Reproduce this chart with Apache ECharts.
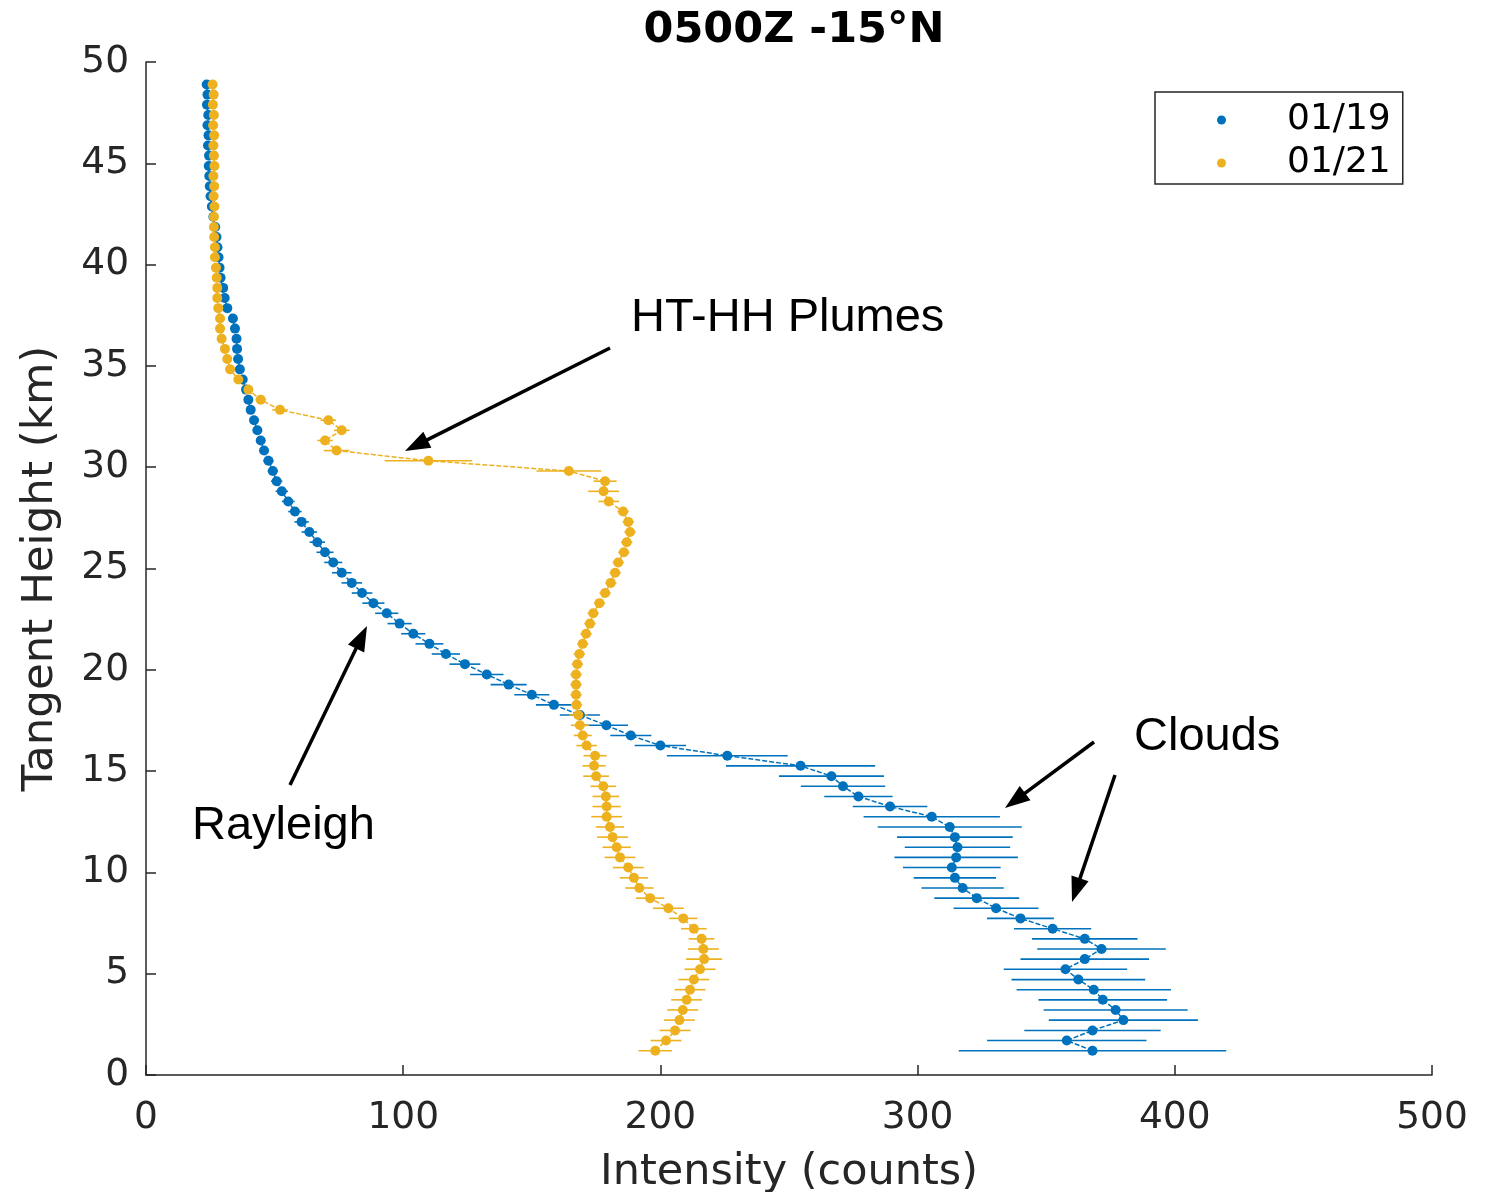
<!DOCTYPE html>
<html><head><meta charset="utf-8">
<script src="https://cdn.jsdelivr.net/npm/echarts@6/dist/echarts.min.js"></script>
<style>html,body{margin:0;padding:0;background:#fff}#c{width:1499px;height:1192px}</style>
</head><body><div id="c"></div>
<script>
// Tangent heights (km)
const heights = [1.20,1.70,2.20,2.71,3.21,3.71,4.21,4.71,5.22,5.72,6.22,6.72,7.22,7.73,8.23,8.73,9.23,9.73,10.24,10.74,
11.24,11.74,12.24,12.75,13.25,13.75,14.25,14.75,15.26,15.76,16.26,16.76,17.26,17.77,18.27,18.77,19.27,19.77,20.28,20.78,
21.28,21.78,22.28,22.79,23.29,23.79,24.29,24.79,25.30,25.80,26.30,26.80,27.30,27.81,28.31,28.81,29.31,29.81,30.32,30.82,
31.32,31.82,32.32,32.83,33.33,33.83,34.33,34.83,35.34,35.84,36.34,36.84,37.34,37.85,38.35,38.85,39.35,39.85,40.36,40.86,
41.36,41.86,42.36,42.87,43.37,43.87,44.37,44.87,45.38,45.88,46.38,46.88,47.38,47.89,48.39,48.89];

// 01/19 intensity and error half-widths
const blueVals = [368,358,368,380,377,372,368.5,362.5,357.5,365,371.5,365,352.5,340,330.5,323,317.5,314.5,313.3,315,
315.5,314.5,312.5,305.5,289.3,277,271,266.5,254.5,226,200,188.5,179,168.7,158.6,150,141,132.5,124,116.6,
110.2,103.9,98.6,93.6,88.4,84,80,76.1,72.8,69.6,66.6,63.5,60.5,57.9,55.3,52.8,50.8,49.3,47.6,45.9,
44.6,43.3,42,40.7,39.8,38.9,37.6,36.5,35.8,35.4,35.2,34.6,33.8,31.6,30.6,30.0,29.0,28.6,28.2,27.8,
27.4,26.9,26.2,25.6,25.1,24.8,24.6,24.4,24.5,24.1,24.3,23.9,24.2,23.7,23.9,23.6];
const blueErr = [52,31,26.5,29,28,25,30,26,24,25,25,20.5,15,13,16.5,16.5,16,16,19,24,
20.5,22.5,28,26.5,14.5,13.3,16.4,20.4,29,23.5,10,8,8.4,7.8,7,6.8,7,6.5,6,5.5,
5.4,4.7,4.7,4.5,4.3,4,4,3.8,3.5,3.3,3,3,2.8,2.6,2.5,2.4,2.2,2,2,1.8,
1.8,1.7,1.6,1.5,1.5,1.4,1.3,1.3,1.2,1.2,1.1,1.1,1,1,1,1,1,1,1,1,
1,1,1,1,1,1,1,1,1,1,1,1,1,1,1,1];

// 01/21 intensity and error half-widths
const yellowVals = [198,202.2,205.7,207.4,208.7,210.2,211.5,213,215.4,217,216.7,216,213,208.9,203.1,196,191.8,189.7,187.5,184.3,
183,181.4,180.4,179.1,179.1,178.8,177.8,175,174.2,174.6,171.3,169.8,168.7,168.1,167.4,167.2,167.2,167.2,167.7,168.5,
169.8,171.1,172.6,173.9,176.3,178.5,180.7,182.4,183.6,185.8,186.9,188.2,187.5,185.5,179.9,177.9,178.5,164.4,109.8,74.1,
69.6,76.1,70.9,52.1,44.6,39.8,35.9,32.7,31.6,30.7,29.4,28.8,28.8,28.1,27.7,27.7,27.5,27.2,26.8,26.8,
26.5,26.4,26.4,26.6,26.3,26.5,26.2,26.6,26.4,26.2,26.5,26.1,26.4,26.0,26.3,25.9];
const yellowErr = [6.5,6,6,6,6,6,6,6,6,7,6,5,5,5.5,6,5.5,5.5,5.5,6,6,
5.5,6,5.5,6,5.5,5.2,5,5,4.5,4.5,4,3.5,3.5,3.5,2.2,2.2,2.2,2.2,2.2,2.2,
2.2,2.2,2.2,2.2,2.2,2.2,2.2,2.2,2.2,2.2,2.2,2.2,2.2,2.2,4,6,4.5,12.6,17,5,
3,3,3,3,2,1.5,1.5,1.2,1.2,1,1,1,1,1,1,1,1,1,1,1,
1,1,1,1,1,1,1,1,1,1,1,1,1,1,1,1];

const seriesNames = ['01/19', '01/21'];
const BLUE = '#0072BD', YELLOW = '#EDB120', AX = '#262626';
const FONT = 'DejaVu Sans';

function errSeries(name, vals, errs, color) {
  return {
    type: 'custom', name: name, silent: true, z: 2,
    data: heights.map((h, i) => [h, vals[i] - errs[i], vals[i] + errs[i]]),
    encode: { x: [1, 2], y: 0 },
    renderItem: function (params, api) {
      const a = api.coord([api.value(1), api.value(0)]);
      const b = api.coord([api.value(2), api.value(0)]);
      return { type: 'line', shape: { x1: a[0], y1: a[1], x2: b[0], y2: b[1] },
               style: { stroke: color, lineWidth: 1.6 } };
    }
  };
}
function lineSeries(name, vals, color) {
  return {
    type: 'line', name: name, z: 3,
    data: heights.map((h, i) => [vals[i], h]),
    symbol: 'circle', symbolSize: 10, showSymbol: true,
    itemStyle: { color: color },
    lineStyle: { color: color, width: 1.5, type: [5, 2] }
  };
}
function arrow(x0, y0, x1, y1) {
  const dx = x1 - x0, dy = y1 - y0, len = Math.hypot(dx, dy), ux = dx / len, uy = dy / len;
  const L = 25, W = 9;
  const bx = x1 - ux * L, by = y1 - uy * L;
  return [
    { type: 'line', shape: { x1: x0, y1: y0, x2: bx + ux * 3, y2: by + uy * 3 }, style: { stroke: '#000', lineWidth: 3.5 } },
    { type: 'polygon', shape: { points: [[x1, y1], [bx - uy * W, by + ux * W], [bx + uy * W, by - ux * W]] }, style: { fill: '#000' } }
  ];
}
function label(text, x, y) {
  return { type: 'text', x: x, y: y, style: { text: text, font: '47px "Liberation Sans"', fill: '#000', verticalAlign: 'middle', align: 'left' } };
}

const chart = echarts.init(document.getElementById('c'), null, { renderer: 'canvas' });
chart.setOption({
  animation: false,
  backgroundColor: '#fff',
  title: { text: '0500Z -15°N', left: 789, textAlign: 'center', top: 4,
           textStyle: { fontSize: 43, fontWeight: 'bold', color: '#000', fontFamily: FONT } },
  grid: { left: 146, right: 67, top: 62, bottom: 117, containLabel: false, outerBoundsMode: 'none' },
  legend: {
    orient: 'vertical', left: 1155, top: 92,
    data: seriesNames.map(n => ({ name: n, icon: 'circle' })),
    itemWidth: 9, itemHeight: 9, itemGap: 7,
    padding: [10, 12, 3, 62],
    borderColor: AX, borderWidth: 1.5, backgroundColor: '#fff',
    textStyle: { fontSize: 36, lineHeight: 36, color: '#000', fontFamily: FONT, padding: [0, 0, 0, 56] }
  },
  xAxis: {
    type: 'value', min: 0, max: 500, interval: 100,
    name: 'Intensity (counts)', nameLocation: 'middle', nameGap: 76,
    nameTextStyle: { fontSize: 43, color: AX, fontFamily: FONT },
    axisLine: { show: true, onZero: false, lineStyle: { color: AX, width: 1.5 } },
    axisTick: { show: true, inside: true, length: 10, lineStyle: { color: AX, width: 1.5 } },
    axisLabel: { fontSize: 37.5, color: AX, margin: 24, fontFamily: FONT },
    splitLine: { show: false }
  },
  yAxis: {
    type: 'value', min: 0, max: 50, interval: 5,
    name: 'Tangent Height (km)', nameLocation: 'middle', nameGap: 83, nameRotate: 90,
    nameTextStyle: { fontSize: 43.5, color: AX, fontFamily: FONT },
    axisLine: { show: true, onZero: false, lineStyle: { color: AX, width: 1.5 } },
    axisTick: { show: true, inside: true, length: 10, lineStyle: { color: AX, width: 1.5 } },
    axisLabel: { fontSize: 37.5, color: AX, margin: 17, fontFamily: FONT },
    splitLine: { show: false }
  },
  series: [
    errSeries('err01/19', blueVals, blueErr, BLUE),
    lineSeries(seriesNames[0], blueVals, BLUE),
    errSeries('err01/21', yellowVals, yellowErr, YELLOW),
    lineSeries(seriesNames[1], yellowVals, YELLOW)
  ],
  graphic: [
    label('HT-HH Plumes', 631, 318),
    label('Rayleigh', 192, 826),
    label('Clouds', 1134, 737),
    ...arrow(610, 348, 405, 451),
    ...arrow(290, 785, 367, 626),
    ...arrow(1094, 742, 1005, 808),
    ...arrow(1115, 775, 1072, 902)
  ]
});
</script></body></html>
